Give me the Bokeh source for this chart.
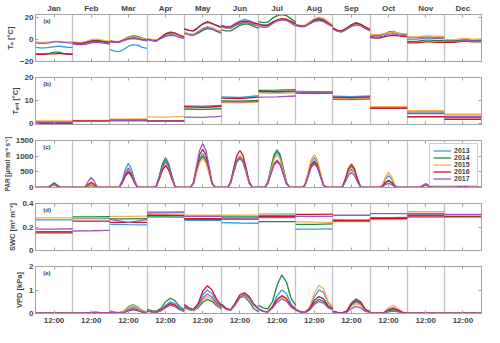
from bokeh.plotting import figure
from bokeh.models import Range1d, FixedTicker, LinearAxis, Label
from bokeh.layouts import column
from bokeh.embed import file_html
from bokeh.resources import INLINE

MONTHS = ["Jan", "Feb", "Mar", "Apr", "May", "Jun", "Jul", "Aug", "Sep", "Oct", "Nov", "Dec"]
YEARS = [2013, 2014, 2015, 2016, 2017]
COLORS = ["#3a9de0", "#1f8a3c", "#f7ac4a", "#c8162e", "#9b59c0"]

# ---------------- (a) air temperature, hours of day ----------------
TA_HOURS = [0, 3, 6, 9, 12, 15, 18, 21, 24]
TA_2013 = [[-7, -7.5, -7.5, -7, -6.5, -6, -6.5, -7, -7], [-3, -3.5, -3.5, -3, -2, -1.5, -2, -2.5, -2.5],
           [-9, -10.5, -11, -9, -6, -4.5, -5, -7, -8], [0.5, -0.5, -1, 1.5, 4, 5, 4.5, 3, 2],
           [9.5, 8.5, 8, 11, 14, 15.5, 14.5, 12.5, 11], [13, 12, 12, 15, 17, 18.5, 17.5, 15.5, 14],
           [14.5, 13.5, 13.5, 16, 18, 19, 18.5, 16.5, 14.5], [13.5, 12.5, 12.5, 15.5, 18, 19.5, 18.5, 15.5, 12.5],
           [10, 8, 7.5, 10, 13, 14.5, 13.5, 11, 9], [4.5, 4, 4, 5, 6.5, 7, 5.5, 5, 4.5],
           [2, 2, 2, 2, 2.5, 2.5, 2, 2, 2], [-1, -1, -1, -0.5, 0, 0, -0.5, -0.5, -0.5]]
TA_2014 = [[-13, -13, -13, -12.5, -11.5, -11.5, -12.5, -13, -13], [-2.5, -3, -3, -2, -1, -0.5, -1, -1.5, -2],
           [-1, -2, -2, 0, 2.5, 3.5, 3, 1.5, 0], [0.5, -0.5, -1, 2, 5.5, 7, 6, 4, 2.5],
           [6, 4.5, 4, 6, 8.5, 10, 9.5, 7.5, 6], [9, 8, 8, 10.5, 13, 14.5, 14, 12, 10.5],
           [16.5, 15.5, 16, 19.5, 22, 23, 22, 19, 16], [13, 12, 12, 14.5, 17, 18, 17, 14.5, 12],
           [10.5, 8.5, 8, 10.5, 13.5, 15.5, 14, 11.5, 9.5], [4.5, 4, 4, 5, 7, 7.5, 6, 5, 4.5],
           [-1.5, -1.5, -1.5, -1, -0.5, -0.5, -1, -1, -1], [-1, -1, -1, -1, -0.5, -0.5, -1, -1, -1]]
TA_2015 = [[-2, -2.5, -2.5, -2, -1.5, -1.5, -2, -2, -2], [-2, -2.5, -2.5, -1.5, 0, 0.5, 0, -1, -1.5],
           [-1, -1.5, -1.5, 0, 2, 2.5, 2, 1, 0], [1, 0, -0.5, 2, 4.5, 6, 5, 3.5, 2],
           [7, 5.5, 5, 7.5, 10.5, 12, 11, 9, 7.5], [12, 10.5, 10.5, 13, 15, 16, 15.5, 14, 13],
           [13, 12, 12, 15, 18, 19.5, 19, 16.5, 13.5], [14, 13, 13, 16, 19, 20.5, 19.5, 16.5, 13],
           [10, 8, 7.5, 10, 12.5, 14, 13, 10.5, 8.5], [5, 4.5, 4.5, 5.5, 6.5, 7, 6, 5.5, 5],
           [2.5, 2.5, 2.5, 3, 3.5, 3.5, 3, 3, 3], [0, 0, 0, 0.5, 1, 1, 0.5, 0.5, 0.5]]
TA_2016 = [[-13.5, -13.5, -13.5, -13, -13, -12.5, -13, -13.5, -13.5], [-3, -3.5, -3.5, -2.5, -1.5, -1, -1.5, -2, -2.5],
           [-1.5, -2, -2, -0.5, 1, 1.5, 1, 0, -0.5], [0.5, -0.5, -1, 2, 5, 6.5, 6, 4, 2.5],
           [10, 8.5, 8, 11, 14.5, 16.5, 15, 13, 11.5], [13, 11.5, 11.5, 14, 16, 17, 16.5, 15, 14.5],
           [14, 13, 13, 16, 18, 19, 18.5, 16.5, 14.5], [13.5, 12.5, 12.5, 15, 18, 19, 18, 15, 12.5],
           [10.5, 8.5, 8, 10.5, 13.5, 15, 14, 11.5, 9.5], [2, 1.5, 1.5, 2.5, 3.5, 4, 3.5, 3, 2.5],
           [-3, -3, -3, -2.5, -2, -2, -2.5, -2.5, -2.5], [-2.5, -2.5, -2.5, -2, -1.5, -1.5, -2, -2, -2]]
TA_2017 = [[-3, -3.5, -3.5, -3, -2, -2, -2.5, -3, -3], [-4, -4.5, -4.5, -4, -3, -2.5, -3, -3.5, -4],
           [-2, -2.5, -2.5, -1, 0.5, 1, 0.5, -0.5, -1], [0, -1, -1.5, 1, 3, 4, 3.5, 2, 1],
           [6, 4.5, 4, 7, 10, 11, 10, 8, 6.5], [12, 10.5, 10.5, 13, 14.5, 15.5, 15, 13.5, 12.5],
           [12, 11.5, 11.5, 14.5, 17, 18, 17.5, 15, 12.5], [13, 12, 12, 14.5, 16.5, 17.5, 16.5, 14, 12],
           [9.5, 7.5, 7, 9.5, 12, 13.5, 12.5, 10, 8], [3, 2.5, 2.5, 3.5, 5, 5.5, 4.5, 4, 3.5],
           [0.5, 0.5, 0.5, 1, 1.5, 1.5, 1, 1, 1], [-1.5, -1.5, -1.5, -1.5, -1, -1, -1.5, -1.5, -1.5]]

# ---------------- (b) soil temperature ----------------
TS_HOURS = [0, 12, 24]
TS_2013 = [[0.5, 0.5, 0.5], [0.9, 0.9, 0.9], [1.3, 1.3, 1.3], [1.0, 1.0, 1.1], [7.6, 7.4, 7.8], [11.5, 11.3, 12.0],
           [13.6, 13.5, 13.7], [13.5, 13.4, 13.5], [11.8, 11.6, 11.9], [6.8, 6.8, 6.8], [4.9, 4.9, 4.9], [3.1, 3.1, 3.1]]
TS_2014 = [[-0.2, -0.2, -0.2], [0.9, 0.9, 0.9], [1.2, 1.2, 1.2], [0.9, 0.9, 1.0], [6.2, 6.0, 6.3], [9.7, 9.6, 10.0],
           [14.4, 14.5, 14.7], [13.9, 13.8, 13.8], [11.1, 10.9, 11.1], [7.0, 7.0, 7.0], [4.2, 4.2, 4.2], [2.5, 2.5, 2.5]]
TS_2015 = [[1.0, 1.0, 1.0], [1.2, 1.2, 1.2], [1.7, 1.7, 1.8], [2.7, 2.6, 3.0], [6.9, 6.8, 7.2], [9.0, 8.9, 9.2],
           [13.2, 13.1, 13.3], [13.6, 13.5, 13.6], [10.8, 10.6, 10.9], [7.2, 7.2, 7.2], [5.5, 5.5, 5.5], [3.9, 3.9, 3.9]]
TS_2016 = [[0.2, 0.2, 0.2], [1.0, 1.0, 1.0], [1.3, 1.3, 1.3], [1.0, 1.0, 1.0], [7.2, 6.9, 7.4], [11.0, 10.8, 11.4],
           [13.9, 13.8, 14.0], [13.2, 13.1, 13.2], [11.4, 11.2, 11.5], [6.5, 6.5, 6.5], [2.8, 2.8, 2.8], [1.7, 1.7, 1.7]]
TS_2017 = [[0.4, 0.4, 0.4], [0.8, 0.8, 0.8], [1.0, 1.0, 1.0], [1.0, 0.9, 0.9], [2.6, 2.5, 3.0], [9.4, 9.3, 9.5],
           [11.4, 11.5, 11.9], [13.4, 13.3, 13.4], [10.4, 10.3, 10.5], [6.8, 6.8, 6.8], [4.4, 4.4, 4.4], [2.8, 2.8, 2.8]]

# ---------------- (c) PAR ----------------
PAR_HOURS = [0, 4, 6, 8, 10, 12, 14, 16, 18, 20, 24]
PAR_2013 = [[0, 0, 0, 0, 60, 120, 60, 0, 0, 0, 0], [0, 0, 0, 5, 70, 120, 70, 5, 0, 0, 0],
            [0, 0, 0, 230, 580, 770, 580, 230, 0, 0, 0], [0, 0, 40, 350, 700, 870, 700, 350, 40, 0, 0],
            [0, 0, 130, 540, 920, 1080, 920, 540, 130, 0, 0], [0, 0, 150, 520, 850, 980, 850, 520, 150, 10, 0],
            [0, 0, 160, 590, 980, 1130, 980, 590, 160, 10, 0], [0, 0, 80, 430, 810, 950, 810, 430, 80, 0, 0],
            [0, 0, 0, 200, 460, 580, 460, 200, 10, 0, 0], [0, 0, 0, 70, 270, 380, 270, 70, 0, 0, 0],
            [0, 0, 0, 0, 50, 100, 50, 0, 0, 0, 0], [0, 0, 0, 0, 30, 60, 30, 0, 0, 0, 0]]
PAR_2014 = [[0, 0, 0, 0, 80, 150, 80, 0, 0, 0, 0], [0, 0, 0, 5, 40, 70, 40, 5, 0, 0, 0],
            [0, 0, 0, 150, 390, 520, 390, 150, 0, 0, 0], [0, 0, 50, 380, 760, 950, 760, 380, 50, 0, 0],
            [0, 0, 120, 500, 850, 1000, 850, 500, 120, 0, 0], [0, 0, 140, 490, 810, 930, 810, 490, 140, 10, 0],
            [0, 0, 170, 620, 1040, 1200, 1040, 620, 170, 10, 0], [0, 0, 70, 360, 680, 800, 680, 360, 70, 0, 0],
            [0, 0, 0, 240, 540, 680, 540, 240, 10, 0, 0], [0, 0, 0, 40, 150, 210, 150, 40, 0, 0, 0],
            [0, 0, 0, 0, 55, 110, 55, 0, 0, 0, 0], [0, 0, 0, 0, 25, 50, 25, 0, 0, 0, 0]]
PAR_2015 = [[0, 0, 0, 0, 45, 90, 45, 0, 0, 0, 0], [0, 0, 0, 5, 70, 120, 70, 5, 0, 0, 0],
            [0, 0, 0, 140, 350, 470, 350, 140, 0, 0, 0], [0, 0, 35, 290, 580, 720, 580, 290, 35, 0, 0],
            [0, 0, 110, 470, 790, 930, 790, 470, 110, 0, 0], [0, 0, 150, 540, 890, 1030, 890, 540, 150, 10, 0],
            [0, 0, 150, 540, 890, 1030, 890, 540, 150, 10, 0], [0, 0, 90, 470, 890, 1050, 890, 470, 90, 0, 0],
            [0, 0, 0, 220, 500, 630, 500, 220, 10, 0, 0], [0, 0, 0, 90, 340, 480, 340, 90, 0, 0, 0],
            [0, 0, 0, 0, 40, 80, 40, 0, 0, 0, 0], [0, 0, 0, 0, 25, 50, 25, 0, 0, 0, 0]]
PAR_2016 = [[0, 0, 0, 0, 50, 100, 50, 0, 0, 0, 0], [0, 0, 0, 5, 100, 170, 100, 5, 0, 0, 0],
            [0, 0, 0, 150, 370, 500, 370, 150, 0, 0, 0], [0, 0, 35, 280, 560, 700, 560, 280, 35, 0, 0],
            [0, 0, 150, 610, 1040, 1220, 1040, 610, 150, 0, 0], [0, 0, 180, 620, 1020, 1180, 1020, 620, 180, 10, 0],
            [0, 0, 120, 430, 720, 830, 720, 430, 120, 10, 0], [0, 0, 75, 380, 720, 850, 720, 380, 75, 0, 0],
            [0, 0, 0, 260, 600, 750, 600, 260, 10, 0, 0], [0, 0, 0, 40, 160, 230, 160, 40, 0, 0, 0],
            [0, 0, 0, 0, 45, 90, 45, 0, 0, 0, 0], [0, 0, 0, 0, 25, 50, 25, 0, 0, 0, 0]]
PAR_2017 = [[0, 0, 0, 0, 50, 100, 45, 0, 0, 0, 0], [0, 0, 0, 10, 200, 320, 200, 10, 0, 0, 0],
            [0, 0, 0, 190, 460, 620, 460, 190, 0, 0, 0], [0, 0, 40, 330, 660, 820, 660, 330, 40, 0, 0],
            [0, 0, 170, 700, 1190, 1400, 1190, 700, 170, 0, 0], [0, 0, 150, 520, 850, 980, 850, 520, 150, 10, 0],
            [0, 0, 130, 460, 760, 880, 760, 460, 130, 10, 0], [0, 0, 65, 340, 640, 750, 640, 340, 65, 0, 0],
            [0, 0, 0, 170, 380, 480, 380, 170, 10, 0, 0], [0, 0, 0, 25, 90, 130, 90, 25, 0, 0, 0],
            [0, 0, 0, 0, 65, 130, 65, 0, 0, 0, 0], [0, 0, 0, 0, 40, 80, 40, 0, 0, 0, 0]]

# ---------------- (d) soil water content ----------------
SWC_HOURS = [0, 12, 24]
SWC_2013 = [[.261, .261, .261], [.272, .272, .272], [.223, .220, .218], [.318, .320, .322], [.258, .256, .256],
            [.238, .234, .232], [.300, .300, .300], [.182, .182, .184], [.258, .257, .257], [.280, .280, .281],
            [.313, .313, .313], [.297, .297, .297]]
SWC_2014 = [[.160, .160, .160], [.286, .287, .288], [.270, .270, .272], [.286, .286, .284], [.264, .264, .264],
            [.286, .286, .287], [.245, .245, .246], [.222, .222, .226], [.258, .258, .258], [.278, .278, .279],
            [.300, .300, .300], [.290, .290, .293]]
SWC_2015 = [[.278, .278, .278], [.278, .278, .279], [.290, .290, .292], [.300, .300, .300], [.300, .300, .300],
            [.300, .300, .301], [.312, .312, .314], [.245, .242, .240], [.245, .245, .245], [.264, .264, .266],
            [.330, .330, .330], [.300, .300, .300]]
SWC_2016 = [[.150, .150, .150], [.250, .250, .250], [.240, .240, .240], [.300, .300, .298], [.272, .272, .272],
            [.267, .267, .267], [.290, .290, .290], [.308, .308, .310], [.253, .253, .253], [.272, .272, .272],
            [.286, .286, .286], [.286, .286, .286]]
SWC_2017 = [[.182, .182, .185], [.166, .168, .172], [.264, .240, .262], [.327, .327, .328], [.290, .290, .290],
            [.275, .275, .275], [.280, .280, .280], [.290, .290, .290], [.300, .300, .300], [.313, .313, .313],
            [.310, .310, .310], [.308, .308, .308]]

# ---------------- (e) VPD ----------------
VPD_HOURS = [0, 3, 6, 9, 12, 15, 18, 21, 24]
VPD_2013 = [[.02, .02, .02, .02, .02, .02, .02, .02, .02], [.02, .02, .02, .02, .03, .03, .03, .02, .02],
            [.07, .05, .03, .06, .18, .28, .20, .09, .05], [.12, .09, .07, .15, .35, .49, .42, .22, .12],
            [.32, .20, .15, .35, .80, 1.0, .85, .50, .30], [.35, .20, .14, .40, .72, .82, .65, .35, .18],
            [.20, .10, .07, .30, .75, 1.0, .85, .40, .20], [.18, .08, .05, .22, .70, 1.0, .90, .45, .25],
            [.08, .04, .03, .08, .35, .49, .40, .15, .07], [.03, .02, .02, .04, .18, .25, .15, .05, .03],
            [.02, .02, .02, .02, .02, .02, .02, .02, .02], [.02, .02, .02, .02, .02, .02, .02, .02, .02]]
VPD_2014 = [[.02, .02, .02, .02, .02, .02, .02, .02, .02], [.02, .02, .02, .02, .03, .03, .03, .02, .02],
            [.10, .06, .04, .10, .28, .37, .28, .12, .06], [.17, .12, .10, .22, .50, .65, .55, .30, .17],
            [.25, .17, .12, .25, .48, .60, .52, .33, .20], [.40, .22, .15, .40, .70, .72, .50, .20, .08],
            [.35, .24, .20, .50, 1.2, 1.64, 1.35, .65, .35], [.15, .07, .04, .15, .45, .60, .52, .28, .18],
            [.10, .05, .03, .10, .45, .62, .50, .18, .08], [.03, .02, .02, .03, .12, .17, .11, .04, .03],
            [.02, .02, .02, .02, .02, .02, .02, .02, .02], [.02, .02, .02, .02, .02, .02, .02, .02, .02]]
VPD_2015 = [[.02, .02, .02, .02, .02, .02, .02, .02, .02], [.02, .02, .02, .02, .03, .04, .03, .02, .02],
            [.08, .05, .03, .08, .25, .35, .26, .10, .05], [.11, .08, .06, .13, .30, .42, .36, .19, .10],
            [.30, .20, .14, .30, .58, .72, .62, .38, .25], [.32, .18, .12, .35, .65, .75, .62, .35, .20],
            [.18, .09, .06, .25, .55, .70, .60, .30, .15], [.20, .09, .06, .28, .85, 1.2, 1.05, .50, .28],
            [.08, .04, .03, .07, .30, .42, .34, .13, .06], [.03, .02, .02, .05, .25, .35, .22, .06, .03],
            [.02, .02, .02, .02, .02, .02, .02, .02, .02], [.02, .02, .02, .02, .02, .02, .02, .02, .02]]
VPD_2016 = [[.02, .02, .02, .02, .02, .02, .02, .02, .02], [.02, .02, .02, .03, .05, .06, .04, .03, .02],
            [.06, .04, .02, .04, .11, .17, .12, .06, .03], [.10, .07, .06, .13, .30, .42, .36, .18, .10],
            [.38, .24, .18, .42, .95, 1.18, 1.0, .60, .35], [.38, .22, .15, .45, .80, .88, .72, .40, .22],
            [.20, .10, .07, .28, .60, .76, .65, .33, .18], [.17, .08, .05, .20, .55, .72, .62, .32, .20],
            [.09, .05, .03, .09, .40, .55, .45, .16, .07], [.03, .02, .02, .04, .15, .21, .14, .05, .03],
            [.02, .02, .02, .02, .02, .02, .02, .02, .02], [.02, .02, .02, .02, .02, .02, .02, .02, .02]]
VPD_2017 = [[.02, .02, .02, .02, .02, .02, .02, .02, .02], [.02, .02, .02, .02, .03, .03, .03, .02, .02],
            [.06, .04, .02, .05, .14, .21, .15, .07, .04], [.10, .07, .05, .11, .25, .35, .30, .16, .09],
            [.30, .20, .15, .32, .66, .83, .70, .42, .26], [.33, .19, .13, .38, .68, .78, .65, .35, .20],
            [.18, .09, .06, .22, .48, .62, .53, .27, .15], [.14, .06, .04, .14, .38, .51, .44, .24, .15],
            [.06, .03, .02, .05, .21, .30, .24, .09, .05], [.02, .02, .02, .03, .07, .10, .07, .03, .02],
            [.02, .02, .02, .02, .02, .02, .02, .02, .02], [.02, .02, .02, .02, .02, .02, .02, .02, .02]]

TA = [TA_2013, TA_2014, TA_2015, TA_2016, TA_2017]
TS = [TS_2013, TS_2014, TS_2015, TS_2016, TS_2017]
PAR = [PAR_2013, PAR_2014, PAR_2015, PAR_2016, PAR_2017]
SWC = [SWC_2013, SWC_2014, SWC_2015, SWC_2016, SWC_2017]
VPD = [VPD_2013, VPD_2014, VPD_2015, VPD_2016, VPD_2017]

FONT = "Liberation Sans"
GRAY = "#a3a3a3"
W = 484
LEFT = 34
RIGHT = 3
NM = len(MONTHS)
MID = [24 * m + 12 for m in range(NM)]
BOUNDS = [24 * m for m in range(1, NM)]


def hide_labels(ax, ticks):
    # ticks only: no tick label is drawn
    ax.major_label_overrides = {t: "" for t in ticks}
    ax.major_label_text_color = None
    ax.major_label_text_font_size = "1px"
    ax.major_label_standoff = 0


def style_x_axis(ax, labels):
    ax.ticker = FixedTicker(ticks=MID)
    ax.major_tick_in = 3
    ax.major_tick_out = 0
    ax.minor_tick_line_color = None
    ax.axis_line_color = GRAY
    ax.major_tick_line_color = GRAY
    if labels is None:
        hide_labels(ax, MID)
    else:
        ax.major_label_overrides = {t: lab for t, lab in zip(MID, labels)}
        ax.major_label_text_font_size = "8px"
        ax.major_label_text_font = FONT
        ax.major_label_text_font_style = "bold"
        ax.major_label_standoff = 2


def panel(data, hours, ylabel, yr, yticks, tag, top, bottom, top_labels=None, bottom_labels=None,
          legend=False, overrides=None, ylabel_size="7.5px"):
    height = top + 47 + bottom
    p = figure(width=W, height=height, output_backend="svg", toolbar_location=None,
               x_range=Range1d(0, 24 * NM), y_range=Range1d(*yr),
               min_border_left=LEFT, min_border_right=RIGHT, min_border_top=top, min_border_bottom=bottom)
    p.outline_line_color = GRAY
    p.ygrid.visible = False
    p.xgrid.ticker = FixedTicker(ticks=BOUNDS)
    p.xgrid.grid_line_color = "#c2c2c2"
    p.xgrid.grid_line_width = 1.3

    style_x_axis(p.xaxis[0], bottom_labels)
    above = LinearAxis()
    style_x_axis(above, top_labels)
    p.add_layout(above, "above")

    ya = p.yaxis[0]
    ya.ticker = FixedTicker(ticks=yticks)
    ya.major_tick_in = 3
    ya.major_tick_out = 0
    ya.minor_tick_line_color = None
    ya.axis_line_color = GRAY
    ya.major_tick_line_color = GRAY
    ya.major_label_text_font = FONT
    ya.major_label_text_font_size = "8px"
    ya.major_label_text_font_style = "bold"
    ya.major_label_standoff = 2
    ya.axis_label = ylabel
    ya.axis_label_text_font = FONT
    ya.axis_label_text_font_size = ylabel_size
    ya.axis_label_text_font_style = "bold"
    ya.axis_label_standoff = 2
    if overrides:
        ya.major_label_overrides = overrides

    ra = LinearAxis(ticker=FixedTicker(ticks=yticks), major_tick_in=3, major_tick_out=0,
                    minor_tick_line_color=None, axis_line_color=GRAY, major_tick_line_color=GRAY)
    hide_labels(ra, yticks)
    p.add_layout(ra, "right")

    for yi, (year, color) in enumerate(zip(YEARS, COLORS)):
        xs = [[24 * m + h for h in hours] for m in range(NM)]
        ys = [list(data[yi][m]) for m in range(NM)]
        kw = dict(legend_label=str(year)) if legend else {}
        p.multi_line(xs=xs, ys=ys, line_color=color, line_width=1.3, **kw)

    p.add_layout(Label(x=5, y=yr[1], y_offset=-3, text=tag, text_baseline="top",
                       text_font=FONT, text_font_size="6px", text_font_style="bold"))

    if legend:
        lg = p.legend[0]
        lg.location = "top_right"
        lg.label_text_font = FONT
        lg.label_text_font_size = "7px"
        lg.label_text_font_style = "bold"
        lg.glyph_width = 18
        lg.glyph_height = 7
        lg.label_height = 7
        lg.label_standoff = 3
        lg.spacing = 0
        lg.padding = 3
        lg.margin = 3
        lg.border_line_color = GRAY
        lg.background_fill_alpha = 1.0
    return p


pa = panel(TA, TA_HOURS, "Tₐ [°C]", (-20, 23), [-20, 0, 20], "(a)", 14, 8, top_labels=MONTHS)
pb = panel(TS, TS_HOURS, "Tₛₒᵢₗ [°C]", (-0.6, 20), [0, 10, 20], "(b)", 8, 8)
pc = panel(PAR, PAR_HOURS, "PAR [μmol m⁻² s⁻¹]", (0, 1500), [0, 500, 1000, 1500], "(c)", 8, 8,
           legend=True, ylabel_size="6.3px")
pd_ = panel(SWC, SWC_HOURS, "SWC [m³ m⁻³]", (0, 0.4), [0, 0.2, 0.4], "(d)", 8, 8,
            overrides={0: "0", 0.2: "0.2", 0.4: "0.4"})
pe = panel(VPD, VPD_HOURS, "VPD [kPa]", (0, 2), [0, 1, 2], "(e)", 8, 14, bottom_labels=["12:00"] * NM)

layout = column(pa, pb, pc, pd_, pe, spacing=0)
open("out.html", "w").write(file_html(layout, INLINE))
